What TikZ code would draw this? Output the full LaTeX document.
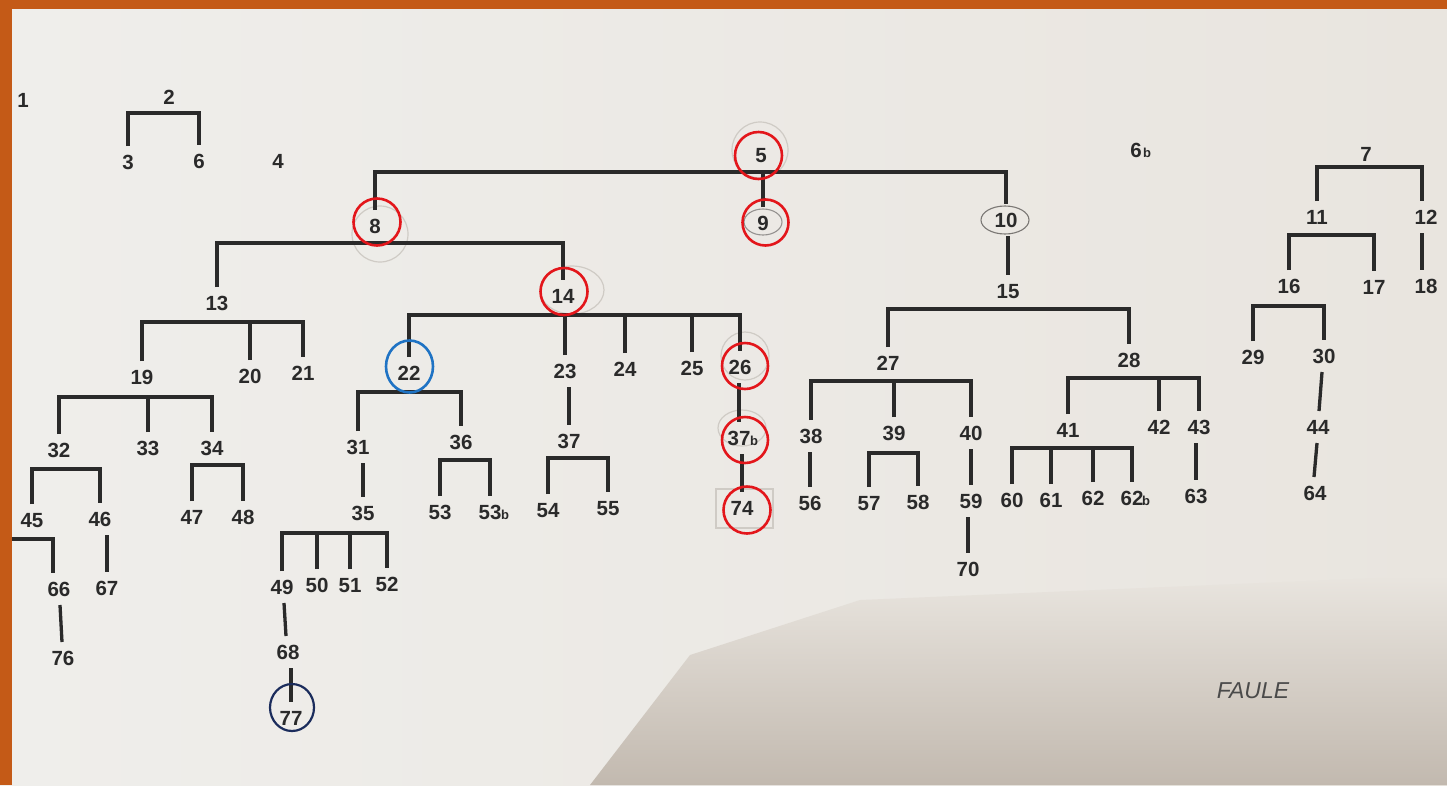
\documentclass[tikz,border=0pt]{standalone}
\usepackage{fontspec}
\setmainfont{Liberation Sans}
\definecolor{frame}{HTML}{C45A17}
\definecolor{paperL}{HTML}{EFEEEB}
\definecolor{paperR}{HTML}{E9E5DF}
\definecolor{shadowc}{HTML}{C2B9AF}
\definecolor{ink}{HTML}{2A2A2A}
\definecolor{redmark}{HTML}{E3161B}
\definecolor{bluemark}{HTML}{1F73C4}
\definecolor{navymark}{HTML}{1B2C5C}
\definecolor{pencil}{HTML}{7A7774}
\definecolor{faintpencil}{HTML}{CFCBC5}
\newcommand{\labfont}{\fontsize{20.5}{20.5}\selectfont\bfseries}
\newcommand{\bisfont}{\fontsize{13}{13}\selectfont\bfseries}
\begin{document}
\begin{tikzpicture}[x=1pt,y=-1pt,
  lab/.style={font=\labfont, text=ink, inner sep=0pt, outer xsep=0pt, outer ysep=9pt, text height=14pt, text depth=0pt, anchor=center},
  bis/.style={font=\bisfont, text=ink, inner sep=0pt, anchor=base west},
  con/.style={draw=ink, line width=3.3pt},
  redc/.style={draw=redmark, line width=2.6pt},
  bluec/.style={draw=bluemark, line width=2.6pt},
  navyc/.style={draw=navymark, line width=2.2pt},
  pen/.style={draw=pencil, line width=1.1pt},
  faint/.style={draw=faintpencil, line width=1.2pt}]
\useasboundingbox (0,0) rectangle (1447,785);
% paper
\shade[left color=paperL, right color=paperR] (0,0) rectangle (1447,785);
\shade[top color=paperR, middle color=paperR!55!shadowc, bottom color=shadowc] (590,785) -- (690,655) -- (860,600) -- (1447,575) -- (1447,785) -- cycle;
\fill[frame] (0,0) rectangle (1447,9);
\fill[frame] (0,0) rectangle (12,785);

% pencil marks
\draw[pen] (1005,220) ellipse [x radius=24pt, y radius=14pt];
\draw[pen, draw=pencil!80] (763,222) ellipse [x radius=19pt, y radius=13pt];
\draw[faint] (760,150) circle [radius=28pt];
\draw[faint] (572,290) ellipse [x radius=32pt, y radius=24pt];
\draw[faint] (745,356) circle [radius=24pt];
\draw[faint] (742,428) ellipse [x radius=24pt, y radius=18pt];
\draw[faint] (380,234) circle [radius=28pt];
\draw[faint] (716,489) rectangle (773,528);

% labels
\node[lab] (n1) at (23,100) {1};
\node[lab] (n2) at (169,97) {2};
\node[lab] (n3) at (128,162) {3};
\node[lab] (n6) at (199,161) {6};
\node[lab] (n4) at (278,161) {4};
\node[lab] (n5) at (761,155) {5};
\node[lab] (n6b) at (1136,150) {6};
\node[bis] (n6bb) at (1143,157) {b};
\node[lab] (n7) at (1366,154) {7};
\node[lab] (n8) at (375,226) {8};
\node[lab] (n9) at (763,223) {9};
\node[lab] (n10) at (1006,220) {10};
\node[lab] (n11) at (1317,217) {11};
\node[lab] (n12) at (1426,217) {12};
\node[lab] (n13) at (217,303) {13};
\node[lab] (n14) at (563,296) {14};
\node[lab] (n15) at (1008,291) {15};
\node[lab] (n16) at (1289,286) {16};
\node[lab] (n17) at (1374,287) {17};
\node[lab] (n18) at (1426,286) {18};
\node[lab] (n19) at (142,377) {19};
\node[lab] (n20) at (250,376) {20};
\node[lab] (n21) at (303,373) {21};
\node[lab] (n22) at (409,373) {22};
\node[lab] (n23) at (565,371) {23};
\node[lab] (n24) at (625,369) {24};
\node[lab] (n25) at (692,368) {25};
\node[lab] (n26) at (740,367) {26};
\node[lab] (n27) at (888,363) {27};
\node[lab] (n28) at (1129,360) {28};
\node[lab] (n29) at (1253,357) {29};
\node[lab] (n30) at (1324,356) {30};
\node[lab] (n31) at (358,447) {31};
\node[lab] (n32) at (59,450) {32};
\node[lab] (n33) at (148,448) {33};
\node[lab] (n34) at (212,448) {34};
\node[lab] (n35) at (363,513) {35};
\node[lab] (n36) at (461,442) {36};
\node[lab] (n37) at (569,441) {37};
\node[lab] (n37b) at (739,438) {37};
\node[bis] (n37bb) at (750,445) {b};
\node[lab] (n38) at (811,436) {38};
\node[lab] (n39) at (894,433) {39};
\node[lab] (n40) at (971,433) {40};
\node[lab] (n41) at (1068,430) {41};
\node[lab] (n42) at (1159,427) {42};
\node[lab] (n43) at (1199,427) {43};
\node[lab] (n44) at (1318,427) {44};
\node[lab] (n45) at (32,520) {45};
\node[lab] (n46) at (100,519) {46};
\node[lab] (n47) at (192,517) {47};
\node[lab] (n48) at (243,517) {48};
\node[lab] (n49) at (282,587) {49};
\node[lab] (n50) at (317,585) {50};
\node[lab] (n51) at (350,585) {51};
\node[lab] (n52) at (387,584) {52};
\node[lab] (n53) at (440,512) {53};
\node[lab] (n53b) at (490,512) {53};
\node[bis] (n53bb) at (501,519) {b};
\node[lab] (n54) at (548,510) {54};
\node[lab] (n55) at (608,508) {55};
\node[lab] (n56) at (810,503) {56};
\node[lab] (n57) at (869,503) {57};
\node[lab] (n58) at (918,502) {58};
\node[lab] (n59) at (971,501) {59};
\node[lab] (n60) at (1012,500) {60};
\node[lab] (n61) at (1051,500) {61};
\node[lab] (n62) at (1093,498) {62};
\node[lab] (n62b) at (1132,498) {62};
\node[bis] (n62bb) at (1142,505) {b};
\node[lab] (n63) at (1196,496) {63};
\node[lab] (n64) at (1315,493) {64};
\node[lab] (n66) at (59,589) {66};
\node[lab] (n67) at (107,588) {67};
\node[lab] (n68) at (288,652) {68};
\node[lab] (n70) at (968,569) {70};
\node[lab] (n74) at (742,508) {74};
\node[lab] (n76) at (63,658) {76};
\node[lab] (n77) at (291,718) {77};
\node[font=\fontsize{23}{23}\selectfont\itshape, text=ink!85, inner sep=0pt] (faule) at (1253,691) {FAULE};

% bar heights
\coordinate (b2) at (169,113);
\coordinate (b5) at (761,172);
\coordinate (b8) at (375,243);
\coordinate (b7) at (1366,167);
\coordinate (b11) at (1317,235);
\coordinate (b13) at (217,322);
\coordinate (b14) at (563,315);
\coordinate (b15) at (1008,309);
\coordinate (b16) at (1289,306);
\coordinate (b19) at (142,397);
\coordinate (b22) at (409,392);
\coordinate (b27) at (888,381);
\coordinate (b28) at (1129,378);
\coordinate (b32) at (59,469);
\coordinate (b34) at (212,465);
\coordinate (b36) at (461,460);
\coordinate (b37) at (569,458);
\coordinate (b39) at (894,453);
\coordinate (b41) at (1068,448);
\coordinate (b35) at (363,533);
\coordinate (edgeL) at (12,539);

% brackets
\draw[con] (n3.north) |- (b2) -| (n6.north);
\draw[con] (n8.north) |- (b5) -| (n10.north);
\draw[con] (n9.north) -- (n9.north |- b5);
\draw[con] (n13.north) |- (b8) -| (n14.north);
\draw[con] (n11.north) |- (b7) -| ([xshift=-4pt]n12.north);
\draw[con] (n16.north) |- (b11) -| (n17.north);
\draw[con] (n19.north) |- (b13) -| (n21.north);
\draw[con] (n20.north) -- (n20.north |- b13);
\draw[con] (n22.north) |- (b14) -| (n26.north);
\foreach \c in {23,24,25} \draw[con] (n\c.north) -- (n\c.north |- b14);
\draw[con] (n27.north) |- (b15) -| (n28.north);
\draw[con] (n29.north) |- (b16) -| (n30.north);
\draw[con] (n32.north) |- (b19) -| (n34.north);
\draw[con] (n33.north) -- (n33.north |- b19);
\draw[con] (n31.north) |- (b22) -| (n36.north);
\draw[con] (n38.north) |- (b27) -| (n40.north);
\draw[con] (n39.north) -- (n39.north |- b27);
\draw[con] (n41.north) |- (b28) -| (n43.north);
\draw[con] (n42.north) -- (n42.north |- b28);
\draw[con] (n45.north) |- (b32) -| (n46.north);
\draw[con] (n47.north) |- (b34) -| (n48.north);
\draw[con] (n53.north) |- (b36) -| (n53b.north);
\draw[con] (n54.north) |- (b37) -| (n55.north);
\draw[con] (n57.north) |- (b39) -| (n58.north);
\draw[con] (n60.north) |- (b41) -| (n62b.north);
\foreach \c in {61,62} \draw[con] (n\c.north) -- (n\c.north |- b41);
\draw[con] (n49.north) |- (b35) -| (n52.north);
\foreach \c in {50,51} \draw[con] (n\c.north) -- (n\c.north |- b35);
\draw[con] (edgeL) -| ([xshift=-6pt]n66.north);

% single links (vertical, at the child's x)
\foreach \p/\c in {10/15, 23/37, 26/37b, 37b/74, 31/35, 38/56, 40/59, 59/70, 43/63, 46/67, 68/77}
  \draw[con] (n\c.north |- n\p.south) -- (n\c.north);
\draw[con] ([xshift=-4pt]n12.south) -- ([xshift=-4pt]n18.north);
\draw[con] ([xshift=2pt]n49.south) -- ([xshift=-2pt]n68.north);
\draw[con] ([xshift=-2pt]n30.south) -- ([xshift=1pt]n44.north);
\draw[con] ([xshift=-1pt]n44.south) -- ([xshift=-1pt]n64.north);
\draw[con] ([xshift=1pt]n66.south) -- ([xshift=-1pt]n76.north);

% coloured circles
\draw[redc] (758.5,155.5) circle [radius=23.5pt];
\draw[redc] (765.5,222.5) circle [radius=23pt];
\draw[redc] (377,222) circle [radius=23.5pt];
\draw[redc] (564,291.5) circle [radius=23.5pt];
\draw[redc] (745,366) circle [radius=23pt];
\draw[redc] (745,440) circle [radius=23pt];
\draw[redc] (747,510) circle [radius=23.5pt];
\draw[bluec] (409.5,366.5) ellipse [x radius=23.5pt, y radius=26pt];
\draw[navyc] (292,707.5) ellipse [x radius=22pt, y radius=23.5pt];
\end{tikzpicture}
\end{document}
